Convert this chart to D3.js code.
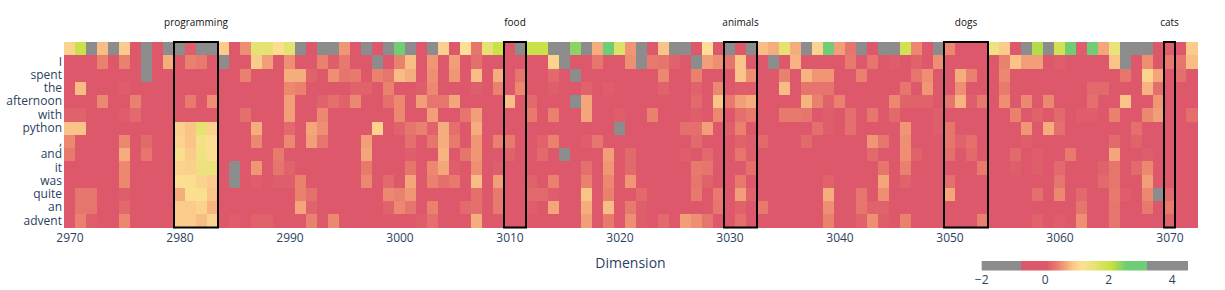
<!DOCTYPE html>
<html>
<head>
<meta charset="utf-8">
<script src="https://cdn.jsdelivr.net/npm/d3@7"></script>
<style>
  body { margin: 0; background: #fff; }
  svg text { font-family: "Open Sans", verdana, arial, sans-serif; }
</style>
</head>
<body>
<div id="chart"></div>
<script>
const W = 1225, H = 290;
const margin = { top: 42, right: 28, bottom: 62.5, left: 64 };

const G = -1.5; // values far below the scale show grey

const dims = d3.range(2970, 3073);
const tokens = ["", "I", "spent", "the", "afternoon", "with", "python", ",", "and", "it", "was", "quite", "an", "advent"];

// one array per token row, one value per dimension 2970..3072
const row0 = [1.0,2.0,G,0.8,G,0.9,0,G,0,G,G,0.1,G,G,0.9,0,0.5,1.6,1.6,1.2,1.6,G,0,G,G,0.55,0,G,0,G,2.8,G,0,G,0.95,0,1.15,0.3,1.6,2.0,0,G,2.0,2.0,G,G,2.4,G,0.7,2.8,1.7,0.55,G,0,0.85,G,G,0,1.15,0,G,0,G,0.8,0.7,1.6,0.7,G,1.0,2.8,0.6,0.3,G,0,G,G,1.9,0.45,0,G,0.45,0,0,0,1.4,0.9,0,G,2.2,G,1.9,2.8,0.1,2.8,0.65,1.5,G,G,G,0,0.1,0,0.9];
const rowI = [0,0,0,0.4,0,0.4,0,G,0,0.7,0,0.4,0.35,0,G,0,0,0.9,0.6,0,0.5,0.05,0,0.4,0.1,0.35,0,0,G,0,0.4,0.8,0,0.55,0,0.6,0,0.25,0,0.05,0,0,0,0,1.0,G,0,0,0.3,0,0,0.5,G,0.35,0.3,0.15,0,G,0.6,0.5,0.3,0.85,0,0,G,0,0.75,0,0,0,0,0.35,0,0.3,0,0.1,0,0.15,0,0.5,0,0,0,0,0,0.4,0.85,0.6,0.6,0,0.1,0,0,0,0,0.85,G,0,0.5,0,0.35,0.3,0.8];
const rowSpent = [0,0,0,0,0,0,0,G,0,0,0,0,0,0,0,0,0.4,0,0,0,0.7,0.7,0.15,0,0.5,0.3,0.35,0,0.4,0.3,0.8,0.7,0,0.5,0,0.55,0,0.8,0,0.7,0,0.3,0,0,0.2,0,G,0,0,0,0,0,0,0,0.45,0,0,0.4,0,0,0,0.85,0.5,0,0,0.4,0,0.75,0.55,0.55,0,0,0.4,0,0,0,0,0.3,0.5,0,0,0.7,0.4,0,0,0.45,0,0,0,0,0,0,0,0,0,0,0.3,0,1.0,0.65,0,0.25,0];
const rowThe = [0,0.8,0,0.05,0,0.1,0,0,0,0,0,0,0,0,0,0,0,0,0,0,0.45,0.4,0,0,0,0,0.15,0.15,0,0.4,0,0,0.1,0.45,0,0,0,0.1,0,0.4,0,0.45,0,0,0.1,0,0,0.15,0,0.1,0,0,0,0,0.15,0,0,0.15,0,0.45,0,0.1,0.1,0,0,0.8,0,0.3,0.3,0.3,0,0,0,0,0,0,0.3,0,0.55,0,0,0.5,0,0,0,0.35,0,0,0,0,0,0,0,0.2,0.2,0,0,0,0.75,0.25,0,0,0];
const rowAfternoon = [0,0.05,0,0.45,0,0.05,0.4,0,0,0,0.05,0.35,0,0.5,0,0,0,0,0,0,0.6,0,0,0.15,0.25,0.15,0.45,0,0,0.25,0.45,0,0.6,0.3,0.3,0.65,0,0,0,0,0.8,0,0.2,0,0,0,G,0.65,0,0,0,0,0,0,0,0,0,0.2,0,0.85,0.35,0.6,0.7,0,0,0,0,0.75,0.4,0.15,0.4,0,0,0,0,0.45,0.15,0.15,0.15,0,0.3,0.75,0.1,0.35,0,0.5,0,0.45,0,0.45,0,0.05,0,0.25,0,0,0.85,0,0,0.55,0,0,0];
const rowWith = [0.15,0.15,0,0,0,0.1,0.2,0,0,0,0,0,0,0.05,0,0,0.25,0,0,0,0.6,0,0,0.45,0,0,0,0,0,0,0.45,0,0,0.6,0,0,0.3,0.6,0,0,0,0,0.35,0,0.4,0,0,0.65,0,0,0.1,0,0,0.4,0,0,0,0.1,0,0.45,0,0.25,0.35,0,0,0.35,0.35,0.3,0,0.1,0,0.25,0,0.3,0,0.2,0,0,0,0.1,0.05,0,0,0,0,0,0.4,0,0.15,0,0.2,0,0.1,0.1,0,0.4,0,0,0.45,0.6,0,0,0.25];
const rowPython = [0.85,0.85,0,0,0,0,0,0,0,0,0.95,0.85,1.6,1.0,0.05,0.05,0,0.7,0,0,0.2,0,0.65,0.5,0,0,0,0,1.0,0,0.15,0.3,0.4,0.15,0.7,0.25,0,0.7,0,0,0,0,0,0,0,0,0,0,0,0,G,0,0,0,0,0,0.25,0.25,0.6,0,0.1,0.4,0,0,0,0,0,0,0.25,0.1,0,0.25,0,0,0,0,0.55,0,0,0.1,0.3,0,0,0,0.05,0,0,0.55,0,0.7,0.25,0,0,0,0,0,0.05,0.25,0,0,0,0,0];
const rowComma = [0.45,0,0,0,0,0.45,0,0.2,0.05,0,1.0,0.85,1.3,1.15,0,0,0,0.45,0,0.05,0.45,0,0.6,0.3,0,0,0,0.6,0,0,0,0.25,0,0.3,0.7,0.35,0,0.55,0,0.4,0.35,0,0,0.15,0.4,0,0,0.1,0.3,0,0,0,0,0,0,0,0,0.2,0,0,0,0.15,0.1,0.2,0,0,0,0.2,0,0,0,0,0,0.55,0.3,0,0.5,0,0,0,0.3,0.15,0.25,0,0,0.05,0,0.1,0,0,0,0,0,0,0,0.2,0,0.15,0,0,0,0,0];
const rowAnd = [0.35,0,0,0,0,0.7,0,0.3,0,0,1.25,0.9,1.4,1.15,0.05,0.05,0.05,0,0,0.35,0,0,0,0,0,0,0,0.65,0,0,0,0.1,0,0,0.75,0,0.3,0.55,0,0,0.15,0,0,0.2,0.05,G,0,0,0,0.6,0,0.2,0,0,0,0,0.1,0,0.2,0,0,0.3,0.1,0,0,0,0,0,0,0,0,0,0,0.2,0,0,0.5,0.15,0,0,0.25,0,0.2,0,0,0,0.2,0,0.1,0,0,0.35,0,0,0,0.65,0,0,0.1,0,0,0,0];
const rowIt = [0,0,0,0,0,0.45,0,0,0,0,1.0,0.95,1.45,1.5,0,G,0,0.55,0,0.3,0.15,0,0,0,0,0,0,0.35,0,0,0,0.3,0,0.45,0.65,0.1,0,0.5,0,0.1,0,0,0,0,0,0,0,0.25,0,0.55,0,0.2,0,0,0,0,0,0.35,0.3,0,0,0,0.25,0,0,0,0,0,0,0,0,0,0,0,0.3,0,0.4,0,0,0,0,0,0,0.35,0,0,0.1,0,0.1,0,0.2,0,0,0,0.15,0.3,0,0.2,0.45,0,0,0,0];
const rowWas = [0,0,0,0,0,0.45,0,0,0,0,1.15,1.2,1.0,0.9,0,G,0,0.1,0,0.1,0.1,0.4,0,0,0,0,0,0.45,0,0.2,0,0.65,0,0.4,0.25,0.35,0,0.8,0,0.6,0,0,0.15,0,0.4,0,0,0.4,0,0.45,0,0.55,0,0,0,0,0,0.3,0.15,0,0,0.35,0,0,0,0,0,0,0,0.15,0,0,0,0,0.65,0,0.15,0,0,0,0.25,0,0,0,0,0,0,0.05,0,0,0.3,0,0,0,0.2,0.3,0,0,0.6,0,0,0,0];
const rowQuite = [0,0.3,0.3,0,0.05,0.1,0,0,0,0,0.7,1.2,1.2,0.85,0,0,0,0,0,0,0,0.4,0.25,0,0,0,0,0,0,0.45,0.4,0.55,0,0,0,0,0,0.25,0,0.35,0,0,0.2,0.2,0.1,0,0,0.85,0,0.4,0,0,0.2,0,0,0,0,0.35,0,0.35,0,0.6,0.15,0,0,0,0,0,0,0.7,0,0,0.3,0,0.5,0,0,0,0,0,0.65,0,0,0,0,0,0.05,0,0.25,0,0.45,0,0.2,0,0,0.35,0.1,0,0.45,G,0.2,0,0];
const rowAn = [0,0.3,0.3,0,0,0.2,0,0,0,0,0.9,0.9,1.0,0.75,0,0,0,0,0,0,0,0.65,0.15,0,0,0,0,0,0,0.15,0.45,0.3,0,0.4,0,0,0.2,0.25,0,0.35,0,0,0.1,0,0.65,0,0,0.7,0,0.8,0,0.35,0.1,0.05,0.05,0.05,0.05,0,0,0.3,0,0.15,0,0.35,0,0,0,0,0,0.5,0,0,0.3,0.15,0.15,0,0,0,0,0,0,0,0,0,0,0,0,0,0,0,0,0,0.3,0,0,0.3,0,0,0.35,0,0.35,0,0];
const rowAdvent = [0,0.4,0.1,0,0,0.45,0,0,0,0,0.9,0.9,0.8,1.0,0,0.1,0,0.15,0.15,0,0,0,0.4,0,0.45,0,0,0,0,0,0,0,0.1,0.25,0,0,0,0.7,0,0,0,0,0,0,0,0,0,0.6,0,0.35,0,0.5,0.1,0,0.2,0,0.6,0.5,0.3,0,0,0.25,0,0,0,0,0,0,0,0.4,0,0,0.15,0.5,0.1,0,0.4,0,0,0,0,0,0,0.4,0,0,0,0,0.15,0,0.1,0,0.5,0,0,0.3,0,0,0,0,0.15,0,0];

const z = [row0, rowI, rowSpent, rowThe, rowAfternoon, rowWith, rowPython, rowComma, rowAnd, rowIt, rowWas, rowQuite, rowAn, rowAdvent];

// highlighted dimension groups
const boxLabels = ["programming", "food", "animals", "dogs", "cats"];
const boxStart = [2980, 3010, 3030, 3050, 3070];
const boxEnd = [2983, 3011, 3032, 3053, 3070];

// colour bar ticks
const cbTicks = [-2, 0, 2, 4];

// colour scale: grey outside [-0.75, 3.2], red -> yellow -> green inside
const grey = "#8c8c8c";
const lo = -0.75, hi = 3.2;
const inner = d3.scaleLinear()
  .domain([lo, 0.05, 0.4, 0.65, 0.9, 1.15, 1.55, 2.1, 2.55, hi])
  .range(["rgb(220,88,106)", "rgb(220,88,106)", "rgb(234,128,110)", "rgb(244,165,122)",
          "rgb(251,203,140)", "rgb(253,222,146)", "rgb(232,226,120)", "rgb(196,225,62)",
          "rgb(110,205,117)", "rgb(110,205,117)"])
  .interpolate(d3.interpolateRgb)
  .clamp(true);
const color = v => (v < lo || v > hi) ? grey : inner(v);

const svg = d3.select("#chart").append("svg")
  .attr("width", W)
  .attr("height", H);

const x = d3.scaleLinear()
  .domain([2969.5, 3072.5])
  .range([margin.left, W - margin.right]);

const y = d3.scaleBand()
  .domain(tokens)
  .range([margin.top, H - margin.bottom]);

// heatmap cells
const cells = [];
z.forEach((row, i) => row.forEach((v, j) => cells.push({ token: tokens[i], dim: dims[j], v })));

svg.append("g")
  .attr("shape-rendering", "crispEdges")
  .selectAll("rect")
  .data(cells)
  .enter().append("rect")
  .attr("x", d => x(d.dim - 0.5))
  .attr("y", d => y(d.token))
  .attr("width", d => x(d.dim + 0.5) - x(d.dim - 0.5) + 0.5)
  .attr("height", y.bandwidth() + 0.5)
  .attr("fill", d => color(d.v));

// axes
const xAxis = svg.append("g")
  .attr("transform", `translate(0,${H - margin.bottom})`)
  .call(d3.axisBottom(x).tickValues(d3.range(2970, 3073, 10)).tickFormat(d3.format("d")).tickSize(0).tickPadding(6));
xAxis.select(".domain").remove();
xAxis.selectAll("text").attr("fill", "#2a3f5f").style("font-size", "12px");

const yAxis = svg.append("g")
  .attr("transform", `translate(${margin.left},0)`)
  .call(d3.axisLeft(y).tickSize(0).tickPadding(2));
yAxis.select(".domain").remove();
yAxis.selectAll("text").attr("fill", "#2a3f5f").style("font-size", "12px");

svg.append("text")
  .attr("x", (x.range()[0] + x.range()[1]) / 2)
  .attr("y", 268)
  .attr("text-anchor", "middle")
  .attr("fill", "#2a3f5f")
  .style("font-size", "14px")
  .text("Dimension");

// boxes and their labels
const boxes = svg.append("g");
boxLabels.forEach((label, i) => {
  const x0 = x(boxStart[i] - 0.5), x1 = x(boxEnd[i] + 0.5);
  boxes.append("rect")
    .attr("x", x0)
    .attr("y", margin.top)
    .attr("width", x1 - x0)
    .attr("height", H - margin.bottom - margin.top)
    .attr("fill", "none")
    .attr("stroke", "black")
    .attr("stroke-width", 2);
  boxes.append("text")
    .attr("x", (x0 + x1) / 2)
    .attr("y", 26)
    .attr("text-anchor", "middle")
    .attr("fill", "#111")
    .style("font-size", "10px")
    .text(label);
});

// horizontal colour bar
const cb = d3.scaleLinear().domain([-2, 4.5]).range([981.7, 1188]);
const grad = svg.append("defs").append("linearGradient")
  .attr("id", "cbgrad");
d3.range(0, 1.0001, 0.0025).forEach(t => {
  grad.append("stop")
    .attr("offset", t)
    .attr("stop-color", color(cb.domain()[0] + t * (cb.domain()[1] - cb.domain()[0])));
});
svg.append("rect")
  .attr("x", cb.range()[0])
  .attr("y", 261)
  .attr("width", cb.range()[1] - cb.range()[0])
  .attr("height", 9.5)
  .attr("fill", "url(#cbgrad)");

svg.append("g").selectAll("text")
  .data(cbTicks)
  .enter().append("text")
  .attr("x", d => cb(d))
  .attr("y", 284)
  .attr("text-anchor", "middle")
  .attr("fill", "#2a3f5f")
  .style("font-size", "12px")
  .text(d => d < 0 ? "\u2212" + Math.abs(d) : d);
</script>
</body>
</html>
